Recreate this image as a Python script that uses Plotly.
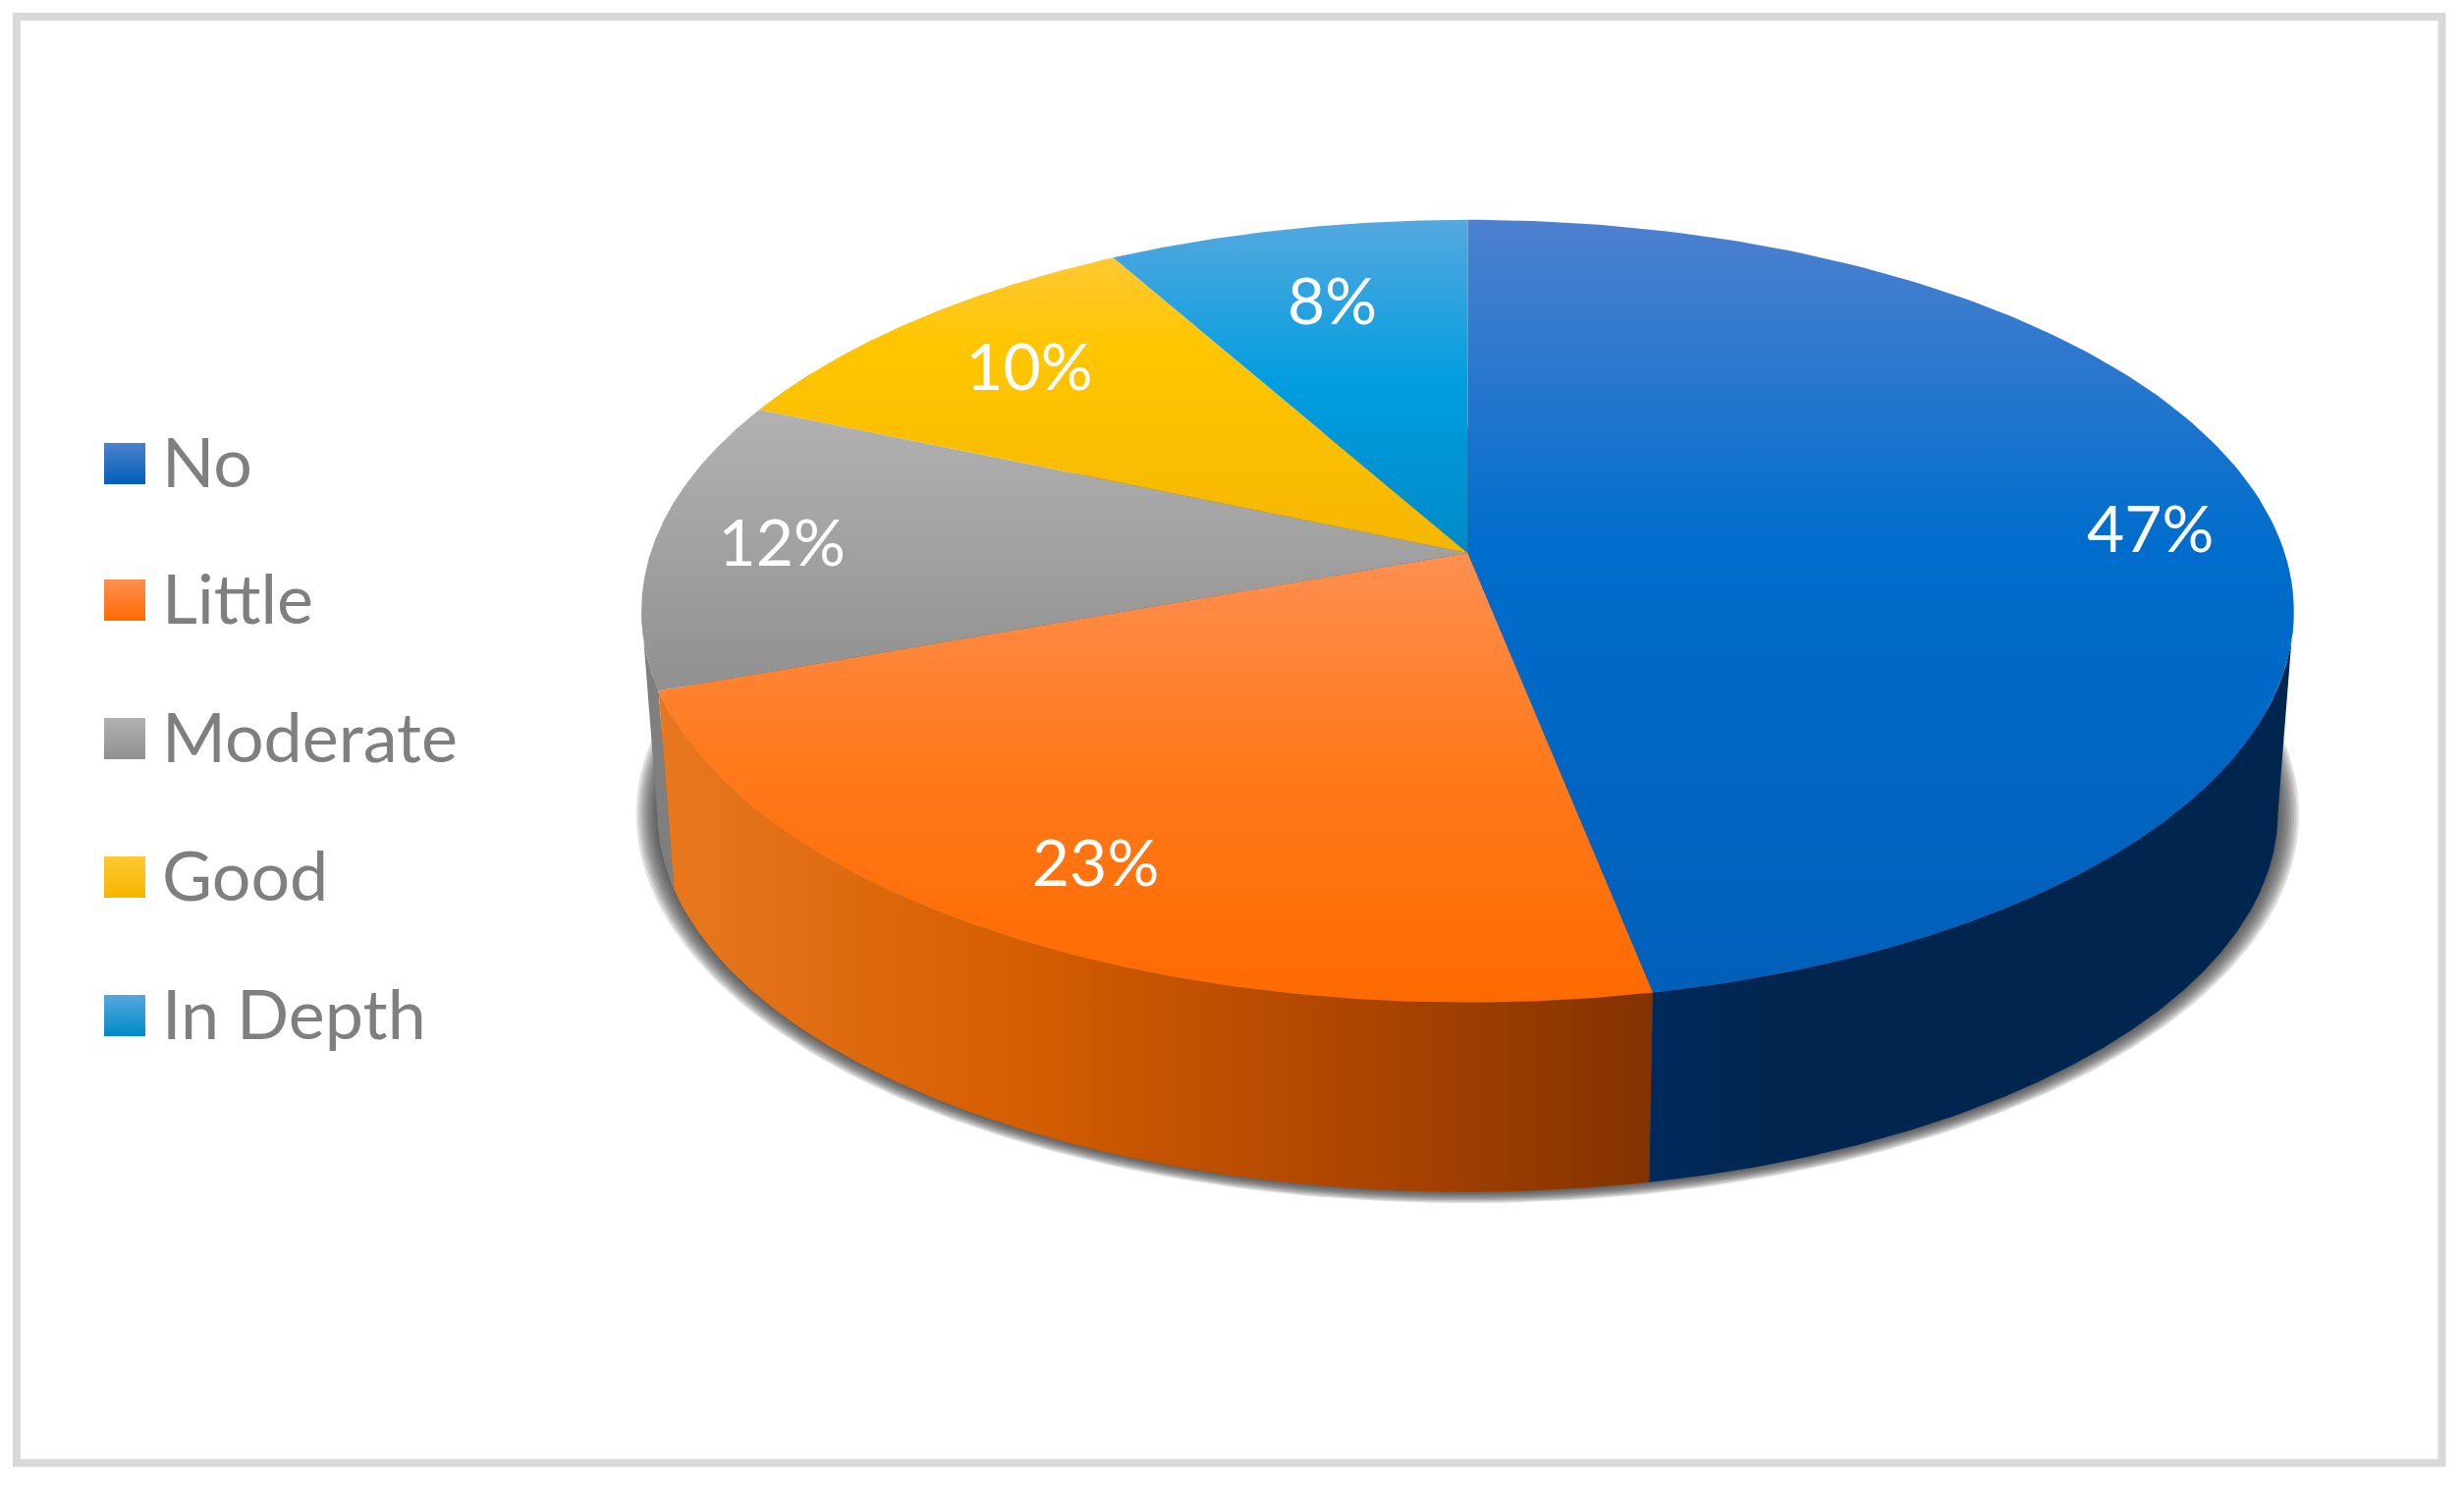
import numpy as np
import plotly.graph_objects as go

# ---- data ----
categories = ["No", "Little", "Moderate", "Good", "In Depth"]
values = [46.9, 22.55, 12.05, 10.35, 8.15]

# ---- styles (stops listed from the top of a slice downward) ----
top_scales = [
    [[0, "#4d81cf"], [0.42, "#006dcc"], [1, "#005fb9"]],
    [[0, "#ff8f52"], [0.45, "#ff7a1c"], [1, "#ff6a00"]],
    [[0, "#b2b2b2"], [1, "#909090"]],
    [[0, "#ffc832"], [0.3, "#ffc600"], [1, "#f6b600"]],
    [[0, "#55a8de"], [0.5, "#009de0"], [1, "#008ac8"]],
]
wall_scales = {
    0: [[0, "#002a5c"], [0.2, "#00264f"], [1, "#00264f"]],
    1: [[0, "#e8781f"], [0.35, "#d65f00"], [0.7, "#ad4500"], [1, "#823200"]],
    2: [[0, "#7f7f7f"], [1, "#7f7f7f"]],
}
swatch_top = ["#4d81cf", "#ff8f52", "#b2b2b2", "#ffc832", "#55a8de"]
swatch_bottom = ["#005fb9", "#ff6a00", "#909090", "#f6b600", "#008ac8"]
label_radius = [0.84, 0.80, 0.85, 0.82, 0.78]
label_dx = [8, -14, 6, 22, 10]
label_dy = [14, 20, 6, 15, 15]
legend_y = [472, 611, 752, 893, 1034]
legend_text_dy = 6
W, H = 2509, 1514
CX, K = 1494.4, 0.1486
TOP = dict(R=832.0, A=389.6, cy=563.0)
BOT = dict(R=816.0, A=377.6, cy=770.0)
RIGHT_EXTREME = np.arccos(-K)
LEFT_EXTREME = 2 * np.pi - RIGHT_EXTREME


def flipped(scale):
    """The y axis runs downward, so gradient stops are mirrored."""
    return [[round(1 - p, 4), c] for p, c in reversed(scale)]


def project(theta, r, disk, grow=0.0):
    u, v = r * np.sin(theta), r * np.cos(theta)
    d = 1 + K * v
    return (CX + disk["R"] * (1 + grow) * u / d,
            disk["cy"] - disk["A"] * (1 + grow) * v / d)


edges = 2 * np.pi * np.cumsum([0] + values) / sum(values)
fig = go.Figure()

# soft drop shadow under the lower disk
full = np.linspace(0, 2 * np.pi, 361)
for g in np.arange(0.026, 0.0, -0.003):
    sx, sy = project(full, 1, BOT, g)
    fig.add_trace(go.Scatter(x=sx, y=sy, mode="lines", line=dict(width=0), fill="toself",
                             fillcolor="rgba(60,60,60,0.16)", hoverinfo="skip"))

# side walls: only the part of the rim facing the viewer
wall_spans = {2: (edges[2], LEFT_EXTREME), 1: (edges[1], edges[2]), 0: (RIGHT_EXTREME, edges[1])}
for i in [2, 1, 0]:
    t = np.linspace(*wall_spans[i], 160)
    x1, y1 = project(t, 1, TOP)
    x2, y2 = project(t, 1, BOT)
    fig.add_trace(go.Scatter(
        x=np.r_[x1, x2[::-1], x1[0]], y=np.r_[y1, y2[::-1], y1[0]],
        mode="lines", line=dict(width=0), fill="toself",
        fillgradient=dict(type="horizontal", colorscale=wall_scales[i]), hoverinfo="skip"))

# top face
for i, name in enumerate(categories):
    t = np.linspace(edges[i], edges[i + 1], 160)
    x, y = project(t, 1, TOP)
    fig.add_trace(go.Scatter(
        x=np.r_[CX, x, CX], y=np.r_[TOP["cy"], y, TOP["cy"]],
        mode="lines", line=dict(width=0), fill="toself", name=name,
        fillgradient=dict(type="vertical", colorscale=flipped(top_scales[i])),
        hovertemplate=f"{name}: {values[i]:.0f}%<extra></extra>"))

# percentage labels
mid = (edges[:-1] + edges[1:]) / 2
lx, ly = project(mid, np.array(label_radius), TOP)
fig.add_trace(go.Scatter(x=lx + np.array(label_dx), y=ly + np.array(label_dy), mode="text",
                         text=[f"{v:.0f}%" for v in values],
                         textfont=dict(family="Lato", size=66, color="white"),
                         textposition="middle center", hoverinfo="skip"))

# legend keys and names
for i, name in enumerate(categories):
    fig.add_trace(go.Scatter(
        x=[127], y=[legend_y[i]], mode="markers", hoverinfo="skip",
        marker=dict(symbol="square", size=42, color=swatch_top[i], line=dict(width=0),
                    gradient=dict(type="vertical", color=swatch_bottom[i]))))
fig.add_trace(go.Scatter(x=[165] * 5, y=[v + legend_text_dy for v in legend_y], mode="text",
                         text=categories, textposition="middle right", hoverinfo="skip",
                         textfont=dict(family="Lato", size=70, color="#7f7f7f")))

fig.update_layout(
    width=W, height=H, margin=dict(l=0, r=0, t=0, b=0), showlegend=False,
    paper_bgcolor="white", plot_bgcolor="white",
    xaxis=dict(range=[0, W], visible=False, fixedrange=True),
    yaxis=dict(range=[H, 0], visible=False, fixedrange=True),
    shapes=[dict(type="rect", xref="x", yref="y", x0=17, y0=17, x1=2486.5, y1=1489.5,
                 line=dict(color="#d9d9d9", width=8), fillcolor="rgba(0,0,0,0)", layer="below")],
)
fig.write_html("out.html", config=dict(displayModeBar=False),
               post_script="document.body.style.margin='0';")
